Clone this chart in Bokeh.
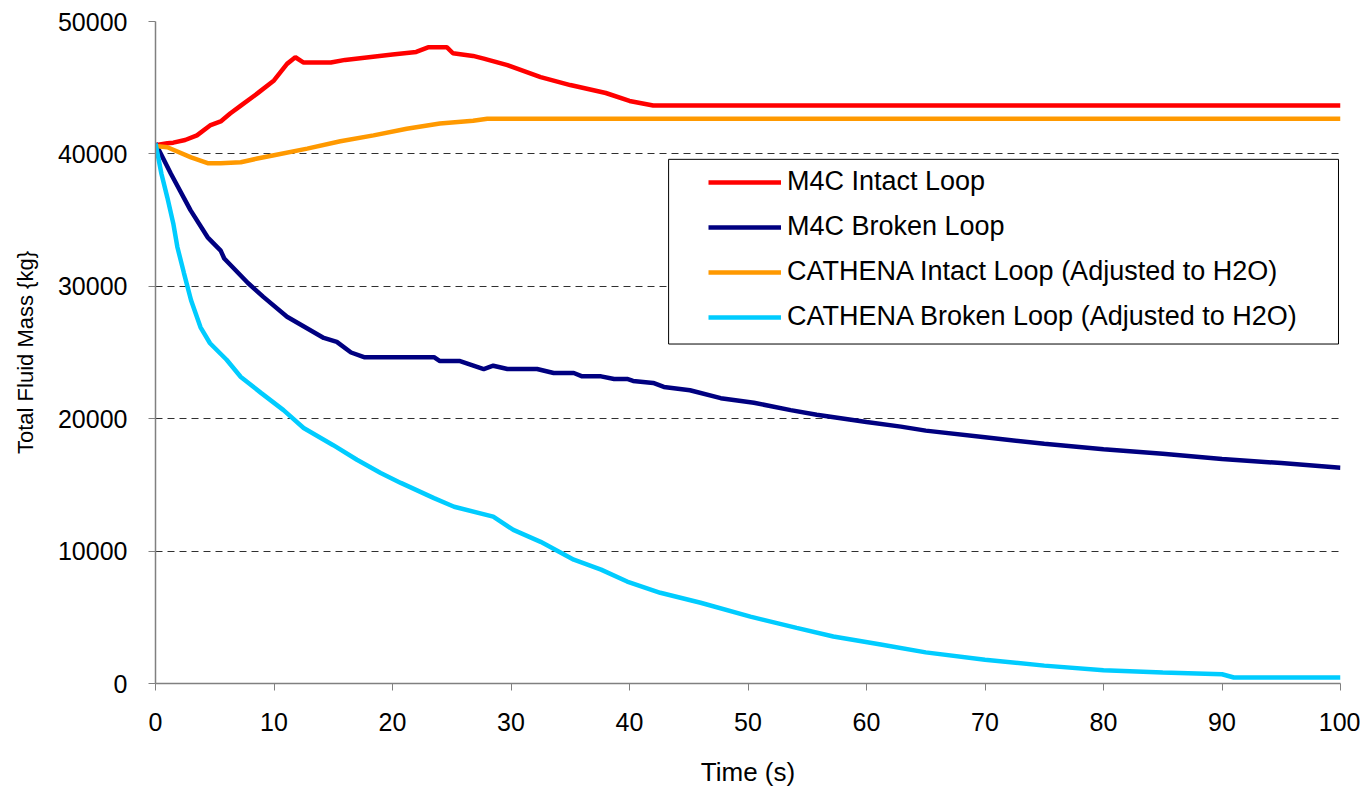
from bokeh.plotting import figure
from bokeh.models import Range1d, SingleIntervalTicker, Legend, LegendItem, BoxAnnotation
from bokeh.embed import file_html
from bokeh.resources import INLINE

# ---- data ----
t_m4c_intact = [0, 1, 1.5, 2.5, 3.5, 4.6, 5.5, 6.3, 7.2, 8.6, 10, 11.1, 11.8, 12.5, 14.8, 16, 18, 20, 22, 23, 24.6, 25.1, 26.8, 27.7, 29.7, 32.5, 35, 38, 40, 42, 100]
m4c_intact = [40650, 40800, 40850, 41050, 41400, 42150, 42450, 43050, 43650, 44570, 45550, 46800, 47300, 46900, 46900, 47100, 47300, 47500, 47700, 48050, 48050, 47600, 47400, 47200, 46700, 45800, 45200, 44600, 44000, 43650, 43650]

t_m4c_broken = [0, 1.3, 2.95, 4.4, 5.5, 5.8, 7.8, 9.1, 11.1, 14.2, 15.3, 16.5, 17.6, 23.5, 24, 25.7, 27.7, 28.5, 29.7, 32.2, 33.6, 35.3, 36, 37.6, 38.7, 39.8, 40.3, 42, 42.9, 45.1, 47.7, 50.5, 53.6, 55.8, 60, 62.9, 65, 70, 75, 80, 85, 90, 95, 100]
m4c_broken = [40800, 38500, 35750, 33700, 32700, 32100, 30250, 29200, 27700, 26100, 25800, 25000, 24650, 24650, 24350, 24350, 23750, 24000, 23750, 23750, 23450, 23450, 23200, 23200, 23000, 23000, 22850, 22700, 22400, 22150, 21550, 21200, 20650, 20300, 19750, 19400, 19100, 18600, 18100, 17700, 17350, 16950, 16650, 16300]

t_cat_intact = [0, 1, 3, 4.4, 5.5, 7.2, 8.6, 10, 12.8, 15.6, 18.4, 21.2, 24, 26.8, 28, 100]
cat_intact = [40600, 40500, 39740, 39300, 39300, 39370, 39650, 39900, 40400, 40950, 41400, 41900, 42300, 42500, 42650, 42650]

t_cat_broken = [0, 0.5, 1, 1.5, 1.85, 2.4, 3, 3.8, 4.6, 6, 7.2, 8.9, 10.8, 12.5, 15, 17, 19, 20.7, 23.5, 25.2, 28.5, 30.2, 32.5, 35.3, 37.6, 39.8, 42.6, 46, 50.2, 54.1, 57.2, 61.2, 65, 70, 75, 80, 85, 90, 91, 100]
cat_broken = [40800, 38500, 36700, 34750, 32950, 31000, 28950, 26900, 25700, 24450, 23150, 21950, 20650, 19300, 18000, 16900, 15900, 15150, 14000, 13350, 12600, 11600, 10700, 9350, 8600, 7700, 6850, 6100, 5050, 4200, 3550, 2950, 2350, 1800, 1350, 1000, 830, 700, 450, 450]

labels = ["M4C Intact Loop", "M4C Broken Loop",
          "CATHENA Intact Loop (Adjusted to H2O)", "CATHENA Broken Loop (Adjusted to H2O)"]
colors = ["#FF0000", "#000080", "#FF9900", "#00CCFF"]

FONT = "Liberation Sans"

p = figure(width=1360, height=789, output_backend="svg", toolbar_location=None,
           x_range=Range1d(0, 100), y_range=Range1d(0, 50000),
           min_border_left=155, min_border_right=20, min_border_top=21, min_border_bottom=105)
p.outline_line_color = None
p.background_fill_color = "white"
p.border_fill_color = "white"

r1 = p.line(t_m4c_intact, m4c_intact, color=colors[0], line_width=4.5)
r2 = p.line(t_m4c_broken, m4c_broken, color=colors[1], line_width=4.5)
r3 = p.line(t_cat_intact, cat_intact, color=colors[2], line_width=4.5)
r4 = p.line(t_cat_broken, cat_broken, color=colors[3], line_width=4.5)

# axes
p.xaxis.ticker = SingleIntervalTicker(interval=10)
p.yaxis.ticker = SingleIntervalTicker(interval=10000)
for ax in (p.xaxis[0], p.yaxis[0]):
    ax.axis_line_color = "#808080"
    ax.axis_line_width = 1.5
    ax.major_tick_line_color = "#808080"
    ax.major_tick_in = 0
    ax.major_tick_out = 7
    ax.minor_tick_line_color = None
    ax.major_label_text_font = FONT
    ax.major_label_text_font_size = "25px"
    ax.major_label_text_color = "black"
    ax.axis_label_text_font = FONT
    ax.axis_label_text_font_style = "normal"
    ax.axis_label_text_color = "black"

p.xaxis.axis_label = "Time (s)"
p.xaxis.axis_label_text_font_size = "26px"
p.xaxis.major_label_standoff = 22
p.xaxis.axis_label_standoff = 23
p.yaxis.axis_label = "Total Fluid Mass {kg}"
p.yaxis.axis_label_text_font_size = "22px"
p.yaxis.major_label_standoff = 21
p.yaxis.axis_label_standoff = 17

p.xgrid.grid_line_color = None
p.ygrid.grid_line_color = "#303030"
p.ygrid.grid_line_dash = "7 5"
p.ygrid.grid_line_width = 1

# legend frame (white box with black border), placed in the upper right of the plot area
legend_box = BoxAnnotation(left=43.3, right=99.83, top=39590, bottom=25640,
                           fill_color="white", fill_alpha=1.0,
                           line_color="black", line_width=1, line_alpha=1.0)
p.add_layout(legend_box)

legend = Legend(items=[LegendItem(label=l, renderers=[r]) for l, r in zip(labels, [r1, r2, r3, r4])],
                location=(553, 351))
legend.border_line_color = None
legend.background_fill_alpha = 0
legend.label_text_font = FONT
legend.label_text_font_size = "27px"
legend.label_text_color = "black"
legend.padding = 10
legend.spacing = 14
legend.glyph_width = 73
legend.glyph_height = 30
legend.label_height = 30
legend.label_standoff = 6
legend.margin = 0
p.add_layout(legend, "center")

open("out.html", "w").write(file_html(p, INLINE))
